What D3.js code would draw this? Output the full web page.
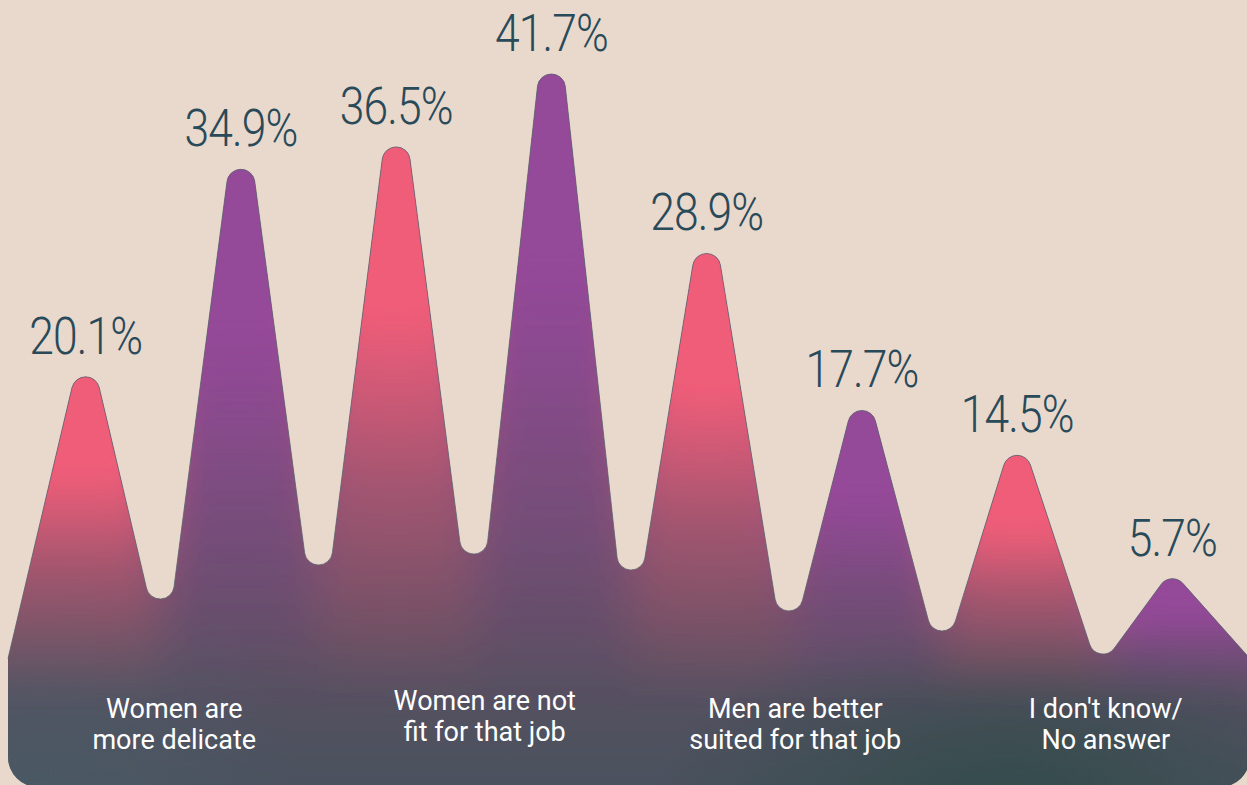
<!DOCTYPE html>
<html>
<head>
<meta charset="utf-8">
<script src="https://cdn.jsdelivr.net/npm/d3@7"></script>
<style>
  html, body { margin: 0; padding: 0; background: #e9d8cc; }
  svg { display: block; }
</style>
</head>
<body>
<svg id="chart" width="1247" height="785"></svg>
<script>
// Share of answers, one peak per answer
const peakValues = [20.1, 34.9, 36.5, 41.7, 28.9, 17.7, 14.5, 5.7];
const peakLabels = ["20.1%", "34.9%", "36.5%", "41.7%", "28.9%", "17.7%", "14.5%", "5.7%"];
const peakColors = ["#f05d78", "#944899", "#f05d78", "#944899", "#f05d78", "#944899", "#f05d78", "#944899"];

// Depth of the dips between neighbouring peaks, and how far each dip leans off centre (in steps)
const valleyValues = [4.25, 6.68, 7.46, 6.32, 3.40, 1.97, 0.33];
const valleyShift = [-0.02, 0, 0, 0.013, 0.03, 0.016, 0.053];

// Category captions, each under a pair of peaks
const categoryLines = [
  ["Women are", "more delicate"],
  ["Women are not", "fit for that job"],
  ["Men are better", "suited for that job"],
  ["I don't know/", "No answer"]
];

const W = 1247, H = 785;
const svg = d3.select("#chart");

const x = d3.scaleLinear().domain([0, 8]).range([8, 1250]);
const y = d3.scaleLinear().domain([0, 41.7]).range([658.6, 74.0]);

const r = 14;           // rounding of peaks and dips
const R = 30;           // rounding of the bottom corners
const bottom = 787;
const xL = x(0), xR = x(8);

// Circles that the outline wraps: peaks (outline passes over) and dips (outline passes under)
const circles = [];
peakValues.forEach((v, k) => {
  circles.push({ cx: x(k + 0.5), cy: y(v) + r, s: 1 });
  if (k < valleyValues.length) {
    circles.push({ cx: x(k + 1 + valleyShift[k]), cy: y(valleyValues[k]) - r, s: -1 });
  }
});

const S = { x: xL, y: y(0) };
const E = { x: xR, y: y(0) };

// Tangent angles on each circle (incoming / outgoing)
{
  const c = circles[0];
  const d = Math.hypot(S.x - c.cx, S.y - c.cy);
  c.aIn = Math.atan2(S.y - c.cy, S.x - c.cx) + Math.acos(r / d);
}
{
  const c = circles[circles.length - 1];
  const d = Math.hypot(E.x - c.cx, E.y - c.cy);
  c.aOut = Math.atan2(E.y - c.cy, E.x - c.cx) - Math.acos(r / d);
}
for (let i = 0; i < circles.length - 1; i++) {
  const A = circles[i], B = circles[i + 1];
  const dx = B.cx - A.cx, dy = B.cy - A.cy;
  const d = Math.hypot(dx, dy);
  const n = Math.atan2(dy, dx) - A.s * Math.acos(2 * r / d);
  A.aOut = n;
  B.aIn = n + Math.PI;
}

function traceTop(p) {
  p.moveTo(S.x, S.y);
  circles.forEach(c => p.arc(c.cx, c.cy, r, c.aIn, c.aOut, c.s < 0));
  p.lineTo(E.x, E.y);
  return p;
}

const shape = traceTop(d3.path());
shape.arcTo(xR, bottom, xL, bottom, R);
shape.arcTo(xL, bottom, xL, S.y, R);
shape.closePath();

const defs = svg.append("defs");

defs.append("clipPath").attr("id", "mountainClip")
  .append("path").attr("d", shape.toString());

// Base shading, top to bottom
const base = defs.append("linearGradient").attr("id", "baseGrad")
  .attr("gradientUnits", "userSpaceOnUse")
  .attr("x1", 0).attr("x2", 0).attr("y1", 60).attr("y2", bottom);
[[0, "#7e4c82"], [0.55, "#6a4f6c"], [0.78, "#5d4f62"], [1, "#4a525e"]]
  .forEach(([o, c]) => base.append("stop").attr("offset", o).attr("stop-color", c));

const teal = defs.append("radialGradient").attr("id", "tealGlow")
  .attr("gradientUnits", "userSpaceOnUse")
  .attr("cx", 1010).attr("cy", 800).attr("r", 300)
  .attr("gradientTransform", "translate(1010,800) scale(1.2,0.6) translate(-1010,-800)");
teal.append("stop").attr("offset", 0).attr("stop-color", "#2f4a48").attr("stop-opacity", 0.85);
teal.append("stop").attr("offset", 1).attr("stop-color", "#2f4a48").attr("stop-opacity", 0);

const slate = defs.append("radialGradient").attr("id", "slateGlow")
  .attr("gradientUnits", "userSpaceOnUse")
  .attr("cx", 40).attr("cy", 800).attr("r", 260);
slate.append("stop").attr("offset", 0).attr("stop-color", "#4a5c66").attr("stop-opacity", 0.7);
slate.append("stop").attr("offset", 1).attr("stop-color", "#4a5c66").attr("stop-opacity", 0);

// Colour of each peak fading downwards
peakValues.forEach((v, k) => {
  const g = defs.append("linearGradient").attr("id", "peakGrad" + k)
    .attr("gradientUnits", "userSpaceOnUse")
    .attr("x1", 0).attr("x2", 0).attr("y1", y(v)).attr("y2", 700);
  [[0, 1], [0.3, 1], [0.6, 0.45], [1, 0]].forEach(([o, a]) =>
    g.append("stop").attr("offset", o).attr("stop-color", peakColors[k]).attr("stop-opacity", a));
});

const soften = defs.append("filter").attr("id", "soften")
  .attr("filterUnits", "userSpaceOnUse")
  .attr("x", -150).attr("y", -50).attr("width", W + 300).attr("height", H + 100);
soften.append("feGaussianBlur").attr("stdDeviation", "24 14");

const body = svg.append("g").attr("clip-path", "url(#mountainClip)");
["url(#baseGrad)", "url(#slateGlow)", "url(#tealGlow)"].forEach(f =>
  body.append("rect").attr("x", 0).attr("y", 0).attr("width", W).attr("height", H).attr("fill", f));

const columns = body.append("g").attr("filter", "url(#soften)");
const edges = [-120, ...valleyValues.map((v, k) => x(k + 1 + valleyShift[k])), W + 120];
peakValues.forEach((v, k) => {
  columns.append("rect")
    .attr("x", edges[k]).attr("width", edges[k + 1] - edges[k])
    .attr("y", -40).attr("height", bottom + 80)
    .attr("fill", `url(#peakGrad${k})`);
});

// Thin outline along the ridge
svg.append("path")
  .attr("d", traceTop(d3.path()).toString())
  .attr("fill", "none")
  .attr("stroke", "#5d6470")
  .attr("stroke-opacity", 0.85)
  .attr("stroke-width", 0.9);

// Value labels above each peak
svg.append("g").selectAll("text")
  .data(peakValues)
  .join("text")
  .attr("transform", (v, k) => `translate(${x(k + 0.5)},${y(v) - 23}) scale(0.87,1)`)
  .attr("text-anchor", "middle")
  .attr("font-family", "Roboto, 'Open Sans', sans-serif")
  .attr("font-weight", 300)
  .attr("font-size", 51)
  .attr("letter-spacing", -1)
  .attr("fill", "#284a59")
  .text((v, k) => peakLabels[k]);

// Category captions inside the base
const captionNudge = [0, -8, 0, 0];
const captions = svg.append("g").selectAll("text")
  .data(categoryLines)
  .join("text")
  .attr("text-anchor", "middle")
  .attr("font-family", "Roboto, 'Open Sans', sans-serif")
  .attr("font-weight", 400)
  .attr("font-size", 27)
  .attr("fill", "#ffffff")
  .attr("transform", (d, k) => `translate(${x(2 * k + 1) + 11},${718 + captionNudge[k]})`);
captions.selectAll("tspan")
  .data(d => d)
  .join("tspan")
  .attr("x", 0)
  .attr("dy", (d, i) => i === 0 ? 0 : 31)
  .text(d => d);
</script>
</body>
</html>
